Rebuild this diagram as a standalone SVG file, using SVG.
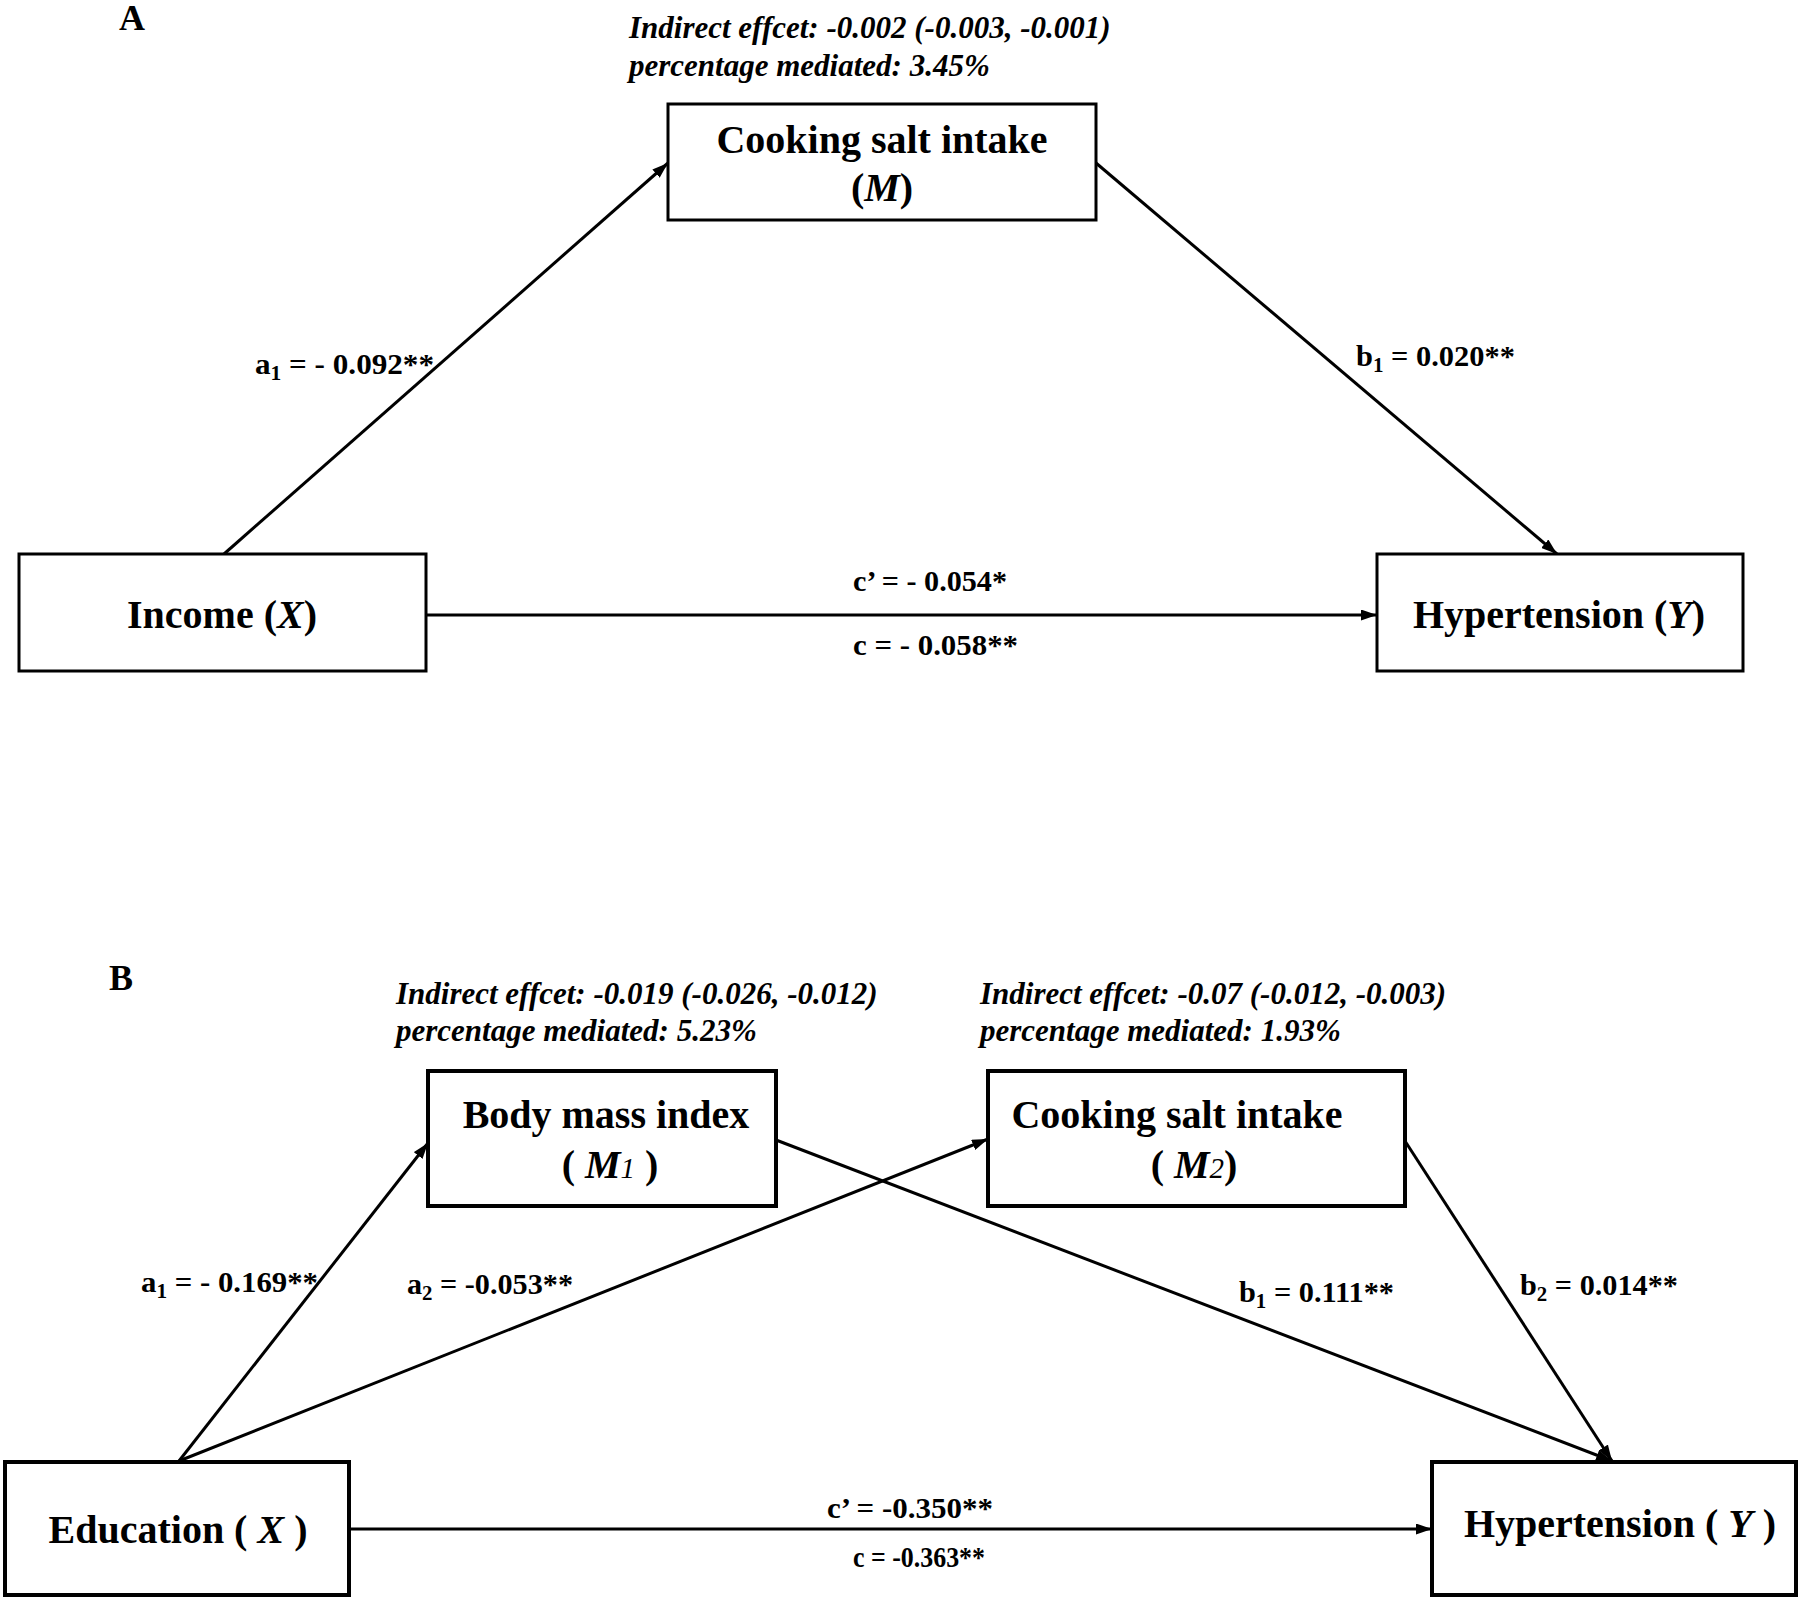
<svg xmlns="http://www.w3.org/2000/svg" width="1800" height="1601" viewBox="0 0 1800 1601">
<style>
  text { font-family: "Liberation Serif", "Times New Roman", serif; fill: #000; }
  .panel { font-size: 36px; font-weight: bold; }
  .node { font-size: 40px; font-weight: bold; }
  .note { font-size: 31px; font-weight: bold; font-style: italic; }
  .lbl { font-size: 29px; font-weight: bold; }
  .sub { font-size: 20px; }
  .it { font-style: italic; }
  .boxA { fill: #fff; stroke: #000; stroke-width: 3; }
  .boxB { fill: #fff; stroke: #000; stroke-width: 4; }
  .edge { fill: none; stroke: #000; stroke-width: 3; marker-end: url(#arr); }
</style>
<defs>
  <marker id="arr" viewBox="0 0 16 11" markerWidth="16" markerHeight="11" refX="16" refY="5.5" orient="auto" markerUnits="userSpaceOnUse">
    <path d="M0,0 L16,5.5 L0,11 z" fill="#000"/>
  </marker>
</defs>
<rect x="0" y="0" width="1800" height="1601" fill="#fff"/>

<!-- Panel A -->
<text class="panel" x="119" y="30">A</text>
<g id="noteA">
  <text class="note" x="629" y="38">Indirect effcet: -0.002 (-0.003, -0.001)</text>
  <text class="note" x="629" y="76">percentage mediated: 3.45%</text>
</g>

<g id="connectors">
  <line class="edge" x1="224" y1="554" x2="668" y2="163"/>
  <line class="edge" x1="1096" y1="163" x2="1557" y2="554"/>
  <line class="edge" x1="426" y1="615" x2="1377" y2="615"/>
  <line class="edge" x1="179" y1="1461" x2="428" y2="1143"/>
  <line class="edge" x1="179" y1="1461" x2="988" y2="1139"/>
  <line class="edge" x1="776" y1="1140" x2="1612" y2="1461"/>
  <line class="edge" x1="1405" y1="1141" x2="1612" y2="1461"/>
  <line class="edge" x1="349" y1="1529" x2="1432" y2="1529"/>
</g>

<g id="edge-labels">
  <text class="lbl" x="255" y="374" textLength="179" lengthAdjust="spacingAndGlyphs">a<tspan class="sub" dy="6">1</tspan><tspan dy="-6"> = - 0.092**</tspan></text>
  <text class="lbl" x="1356" y="366" textLength="159" lengthAdjust="spacingAndGlyphs">b<tspan class="sub" dy="6">1</tspan><tspan dy="-6"> = 0.020**</tspan></text>
  <text class="lbl" x="853" y="591" textLength="154" lengthAdjust="spacingAndGlyphs">c’ = - 0.054*</text>
  <text class="lbl" x="853" y="655" textLength="165" lengthAdjust="spacingAndGlyphs">c = - 0.058**</text>
  <text class="lbl" x="141" y="1292" textLength="177" lengthAdjust="spacingAndGlyphs">a<tspan class="sub" dy="6">1</tspan><tspan dy="-6"> = - 0.169**</tspan></text>
  <text class="lbl" x="407" y="1294" textLength="166" lengthAdjust="spacingAndGlyphs">a<tspan class="sub" dy="6">2</tspan><tspan dy="-6"> = -0.053**</tspan></text>
  <text class="lbl" x="1239" y="1302" textLength="155" lengthAdjust="spacingAndGlyphs">b<tspan class="sub" dy="6">1</tspan><tspan dy="-6"> = 0.111**</tspan></text>
  <text class="lbl" x="1520" y="1295" textLength="158" lengthAdjust="spacingAndGlyphs">b<tspan class="sub" dy="6">2</tspan><tspan dy="-6"> = 0.014**</tspan></text>
  <text class="lbl" x="827" y="1518" textLength="166" lengthAdjust="spacingAndGlyphs">c’ = -0.350**</text>
  <text class="lbl" x="853" y="1567" textLength="132" lengthAdjust="spacingAndGlyphs">c = -0.363**</text>
</g>

<g id="nodeA-M">
  <rect class="boxA" x="668" y="104" width="428" height="116"/>
  <text class="node" x="882" y="153" text-anchor="middle">Cooking salt intake</text>
  <text class="node" x="882" y="201" text-anchor="middle">(<tspan class="it">M</tspan>)</text>
</g>
<g id="nodeA-X">
  <rect class="boxA" x="19" y="554" width="407" height="117"/>
  <text class="node" x="222" y="628" text-anchor="middle">Income (<tspan class="it">X</tspan>)</text>
</g>
<g id="nodeA-Y">
  <rect class="boxA" x="1377" y="554" width="366" height="117"/>
  <text class="node" x="1559" y="628" text-anchor="middle">Hypertension (<tspan class="it">Y</tspan>)</text>
</g>

<!-- Panel B -->
<text class="panel" x="109" y="990">B</text>
<g id="noteB1">
  <text class="note" x="396" y="1004">Indirect effcet: -0.019 (-0.026, -0.012)</text>
  <text class="note" x="396" y="1041">percentage mediated: 5.23%</text>
</g>
<g id="noteB2">
  <text class="note" x="980" y="1004">Indirect effcet: -0.07 (-0.012, -0.003)</text>
  <text class="note" x="980" y="1041">percentage mediated: 1.93%</text>
</g>

<g id="nodeB-M1">
  <rect class="boxB" x="428" y="1071" width="348" height="135"/>
  <text class="node" x="606" y="1128" text-anchor="middle">Body mass index</text>
  <text class="node" x="610" y="1178" text-anchor="middle">( <tspan class="it">M</tspan><tspan class="it" font-size="29" font-weight="normal">1</tspan> )</text>
</g>
<g id="nodeB-M2">
  <rect class="boxB" x="988" y="1071" width="417" height="135"/>
  <text class="node" x="1177" y="1128" text-anchor="middle">Cooking salt intake</text>
  <text class="node" x="1194" y="1178" text-anchor="middle">( <tspan class="it">M</tspan><tspan class="it" font-size="29" font-weight="normal">2</tspan>)</text>
</g>
<g id="nodeB-X">
  <rect class="boxB" x="5" y="1462" width="344" height="133"/>
  <text class="node" x="178" y="1543" text-anchor="middle">Education ( <tspan class="it">X</tspan> )</text>
</g>
<g id="nodeB-Y">
  <rect class="boxB" x="1432" y="1462" width="364" height="133"/>
  <text class="node" x="1620" y="1537" text-anchor="middle">Hypertension ( <tspan class="it">Y</tspan> )</text>
</g>
</svg>
